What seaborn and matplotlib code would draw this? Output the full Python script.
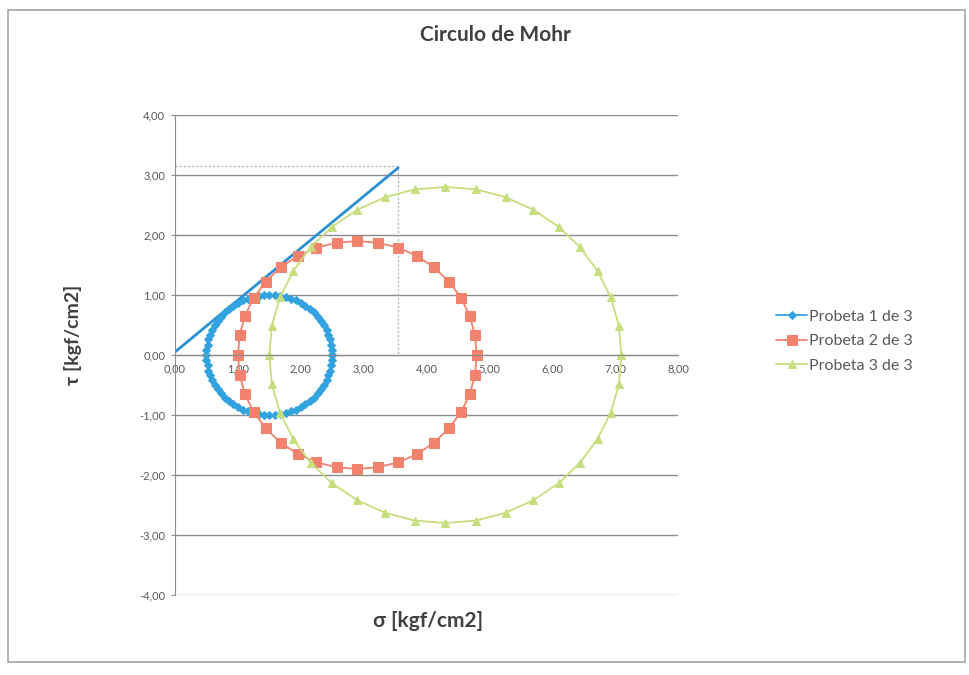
import matplotlib
matplotlib.use("Agg")
import matplotlib.pyplot as plt
import seaborn as sns
import pandas as pd
from matplotlib.patches import Rectangle

# ---- data ----
p1_sigma = [2.50, 2.50, 2.48, 2.47, 2.44, 2.41, 2.37, 2.32, 2.27, 2.21, 2.14, 2.07, 2.00, 1.92, 1.84, 1.76, 1.67, 1.59,
            1.50, 1.41, 1.33, 1.24, 1.16, 1.08, 1.00, 0.93, 0.86, 0.79, 0.73, 0.68, 0.63, 0.59, 0.56, 0.53, 0.52, 0.50,
            0.50, 0.50, 0.52, 0.53, 0.56, 0.59, 0.63, 0.68, 0.73, 0.79, 0.86, 0.93, 1.00, 1.08, 1.16, 1.24, 1.33, 1.41,
            1.50, 1.59, 1.67, 1.76, 1.84, 1.92, 2.00, 2.07, 2.14, 2.21, 2.27, 2.32, 2.37, 2.41, 2.44, 2.47, 2.48, 2.50, 2.50]
p1_tau = [0.00, 0.09, 0.17, 0.26, 0.34, 0.42, 0.50, 0.57, 0.64, 0.71, 0.77, 0.82, 0.87, 0.91, 0.94, 0.97, 0.98, 1.00,
          1.00, 1.00, 0.98, 0.97, 0.94, 0.91, 0.87, 0.82, 0.77, 0.71, 0.64, 0.57, 0.50, 0.42, 0.34, 0.26, 0.17, 0.09,
          0.00, -0.09, -0.17, -0.26, -0.34, -0.42, -0.50, -0.57, -0.64, -0.71, -0.77, -0.82, -0.87, -0.91, -0.94, -0.97,
          -0.98, -1.00, -1.00, -1.00, -0.98, -0.97, -0.94, -0.91, -0.87, -0.82, -0.77, -0.71, -0.64, -0.57, -0.50,
          -0.42, -0.34, -0.26, -0.17, -0.09, 0.00]

p2_sigma = [4.80, 4.77, 4.69, 4.55, 4.36, 4.12, 3.85, 3.55, 3.23, 2.90, 2.57, 2.25, 1.95, 1.68, 1.44, 1.25, 1.11, 1.03,
            1.00, 1.03, 1.11, 1.25, 1.44, 1.68, 1.95, 2.25, 2.57, 2.90, 3.23, 3.55, 3.85, 4.12, 4.36, 4.55, 4.69, 4.77, 4.80]
p2_tau = [0.00, 0.33, 0.65, 0.95, 1.22, 1.46, 1.65, 1.79, 1.87, 1.90, 1.87, 1.79, 1.65, 1.46, 1.22, 0.95, 0.65, 0.33,
          0.00, -0.33, -0.65, -0.95, -1.22, -1.46, -1.65, -1.79, -1.87, -1.90, -1.87, -1.79, -1.65, -1.46, -1.22,
          -0.95, -0.65, -0.33, 0.00]

p3_sigma = [7.10, 7.06, 6.93, 6.72, 6.44, 6.10, 5.70, 5.26, 4.79, 4.30, 3.81, 3.34, 2.90, 2.50, 2.16, 1.88, 1.67, 1.54,
            1.50, 1.54, 1.67, 1.88, 2.16, 2.50, 2.90, 3.34, 3.81, 4.30, 4.79, 5.26, 5.70, 6.10, 6.44, 6.72, 6.93, 7.06, 7.10]
p3_tau = [0.00, 0.49, 0.96, 1.40, 1.80, 2.14, 2.42, 2.63, 2.76, 2.80, 2.76, 2.63, 2.42, 2.14, 1.80, 1.40, 0.96, 0.49,
          0.00, -0.49, -0.96, -1.40, -1.80, -2.14, -2.42, -2.63, -2.76, -2.80, -2.76, -2.63, -2.42, -2.14, -1.80,
          -1.40, -0.96, -0.49, 0.00]

envelope_sigma = [0.00, 3.55]
envelope_tau = [0.05, 3.12]
guide_sigma = [0.00, 3.55, 3.55]
guide_tau = [3.15, 3.15, 0.00]

series_names = ["Probeta 1 de 3", "Probeta 2 de 3", "Probeta 3 de 3"]
x_ticks = [0, 1, 2, 3, 4, 5, 6, 7, 8]
y_ticks = [-4, -3, -2, -1, 0, 1, 2, 3, 4]
x_tick_labels = ["0,00", "1,00", "2,00", "3,00", "4,00", "5,00", "6,00", "7,00", "8,00"]
y_tick_labels = ["-4,00", "-3,00", "-2,00", "-1,00", "0,00", "1,00", "2,00", "3,00", "4,00"]

# ---- style ----
sns.set_style("white")
plt.rcParams["font.family"] = ["Lato", "DejaVu Sans"]

fig = plt.figure(figsize=(9.69, 6.75), dpi=100)
fig.patch.set_facecolor("white")
fig.add_artist(Rectangle((8 / 969, 1 - 662 / 675), 957 / 969, 652 / 675, transform=fig.transFigure,
                         fill=False, edgecolor="#a6a6a6", linewidth=1.2))

ax = fig.add_axes([175 / 969, 1 - 595 / 675, 503 / 969, 480 / 675])

colors = ["#33a3e0", "#f0826e", "#c6de7e"]
markers = ["D", "s", "^"]
msizes = [4.5, 6.5, 5.5]
data = [(p1_sigma, p1_tau), (p2_sigma, p2_tau), (p3_sigma, p3_tau)]

# envelope & guides
sns.lineplot(x=guide_sigma, y=guide_tau, sort=False, estimator=None, ax=ax, color="#a9bccb",
             linewidth=1.0, linestyle=(0, (1.5, 1.5)), legend=False)
sns.lineplot(x=envelope_sigma, y=envelope_tau, sort=False, estimator=None, ax=ax, color="#2b8fd4",
             linewidth=2.0, legend=False)

for (xs, ys), name, c, m, ms in zip(data, series_names, colors, markers, msizes):
    df = pd.DataFrame({"sigma": xs, "tau": ys})
    sns.lineplot(data=df, x="sigma", y="tau", sort=False, estimator=None, ax=ax, color=c,
                 linewidth=1.3, marker=m, markersize=ms, markeredgecolor=c, markerfacecolor=c,
                 label=name)

ax.set_xlim(0, 8)
ax.set_ylim(-4, 4)
ax.set_xticks(x_ticks)
ax.set_xticklabels(x_tick_labels)
ax.set_yticks(y_ticks)
ax.set_yticklabels(y_tick_labels)
ax.yaxis.grid(True, color="#8c8c8c", linewidth=1.0)
ax.xaxis.grid(False)
ax.set_axisbelow(True)

for s in ["top", "right"]:
    ax.spines[s].set_visible(False)
ax.spines["left"].set_color("#8c8c8c")
ax.spines["bottom"].set_position(("data", 0))
ax.spines["bottom"].set_color("#8c8c8c")
ax.tick_params(axis="x", length=0, pad=6, labelsize=8, labelcolor="#595959")
ax.tick_params(axis="y", length=3, color="#8c8c8c", pad=4, labelsize=8, labelcolor="#595959", left=True)

ax.set_xlabel("")
ax.set_ylabel("")
fig.text(428 / 969, 1 - 621 / 675, "σ [kgf/cm2]", ha="center", va="center", fontsize=15,
         fontweight="bold", color="#404040")
fig.text(73 / 969, 1 - 335 / 675, "τ [kgf/cm2]", ha="center", va="center", fontsize=14,
         fontweight="bold", color="#404040", rotation=90)
fig.text(495 / 969, 1 - 35 / 675, "Circulo de Mohr", ha="center", va="center", fontsize=15,
         fontweight="bold", color="#404040")

leg = ax.legend(loc="center left", bbox_to_anchor=(762 / 969, 1 - 341 / 675), bbox_transform=fig.transFigure,
                frameon=False, fontsize=11.5, handlelength=1.9, handletextpad=0.15, labelspacing=0.65)
for t in leg.get_texts():
    t.set_color("#595959")

fig.savefig("out.png", dpi=100, facecolor="white")
